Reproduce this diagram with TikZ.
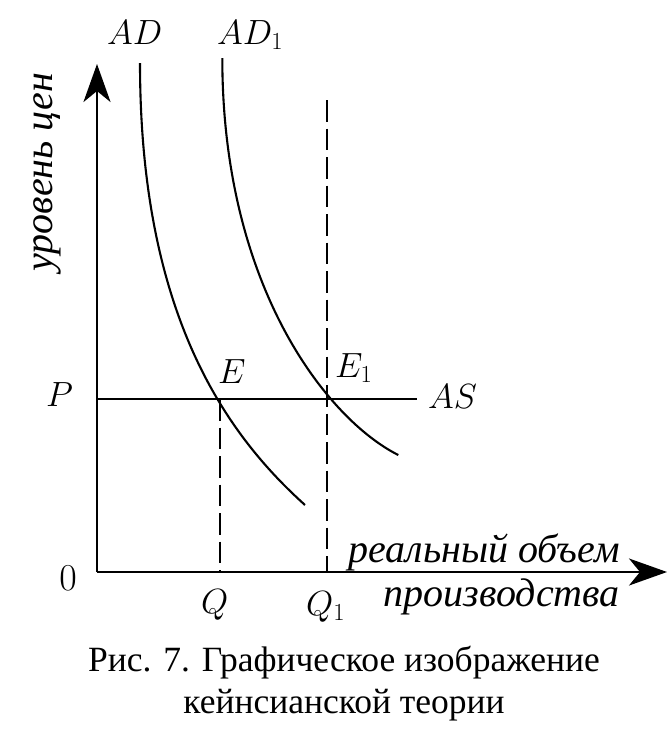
\RequirePackage{fix-cm}
\documentclass[tikz,border=0pt]{standalone}
\usepackage[no-math]{fontspec}
\setmainfont{Liberation Serif}
\usetikzlibrary{arrows.meta}
\tikzset{
  axisline/.style={line width=2.6pt, -{Stealth[length=38pt,width=27pt,inset=11pt]}},
  curveline/.style={line width=2.1pt},
  dashline/.style={line width=2.3pt, dash pattern=on 21.5pt off 7pt},
  lbl/.style={font=\fontsize{35}{35}\selectfont, inner sep=0pt, anchor=base west},
  cyr/.style={font=\fontsize{40}{40}\selectfont\itshape, inner sep=0pt},
  capt/.style={font=\fontsize{35.5}{35.5}\selectfont, inner sep=0pt}
}
\begin{document}
\begin{tikzpicture}[x=1pt,y=-1pt]
\useasboundingbox (0,0) rectangle (668,748);
\coordinate (O) at (97,572);
\coordinate (ytop) at (97,64);
\coordinate (xend) at (667,572);
\coordinate (Pl) at (97,399);
\coordinate (ASend) at (417,399);
\coordinate (E) at (220,399);
\coordinate (E1) at (327,399);
\coordinate (Qb) at (220,572);
\coordinate (Q1b) at (327,572);
\coordinate (Q1t) at (327,100);
\coordinate (ADs) at (140,63);
\coordinate (ADe) at (305,505);
\coordinate (AD1s) at (222.3,58);
\coordinate (AD1e) at (398.3,455);
% axes
\draw[axisline] (O) -- (ytop);
\draw[axisline] (O) -- (xend);
% AS
\draw[curveline] (Pl) -- (ASend);
% dashed
\draw[dashline] (E) -- (Qb);
\draw[dashline] (Q1t) -- (Q1b);
% AD curves
\draw[curveline] (ADs) .. controls (140,313) and (225,433) .. (ADe);
\draw[curveline] (AD1s) .. controls (222.3,288) and (328.3,420) .. (AD1e);
% labels
\node[lbl] (lAD) at (107,44) {$AD$};
\node[lbl] (lAD1) at (217,44) {$AD_1$};
\node[lbl] (lP) at (46,406) {$P$};
\node[lbl] (lE) at (218,383) {$E$};
\node[lbl] (lE1) at (335,377) {$E_1$};
\node[lbl] (lAS) at (428,408) {$AS$};
\node[font=\fontsize{38}{38}\selectfont, inner sep=0pt] (l0) at (68,578) {$0$};
\node[lbl] (lQ) at (201,613) {$Q$};
\node[lbl] (lQ1) at (306,615) {$Q_1$};
\node[cyr, anchor=base east] (lx1) at (620,562) {реальный объем};
\node[cyr, anchor=base east] (lx2) at (620,606) {производства};
\node[cyr, rotate=90] (ly) at (47,172) {уровень цен};
\node[capt] (c1) at (344,663) {Рис. 7. Графическое изображение};
\node[capt] (c2) at (344,705) {кейнсианской теории};
\end{tikzpicture}
\end{document}
